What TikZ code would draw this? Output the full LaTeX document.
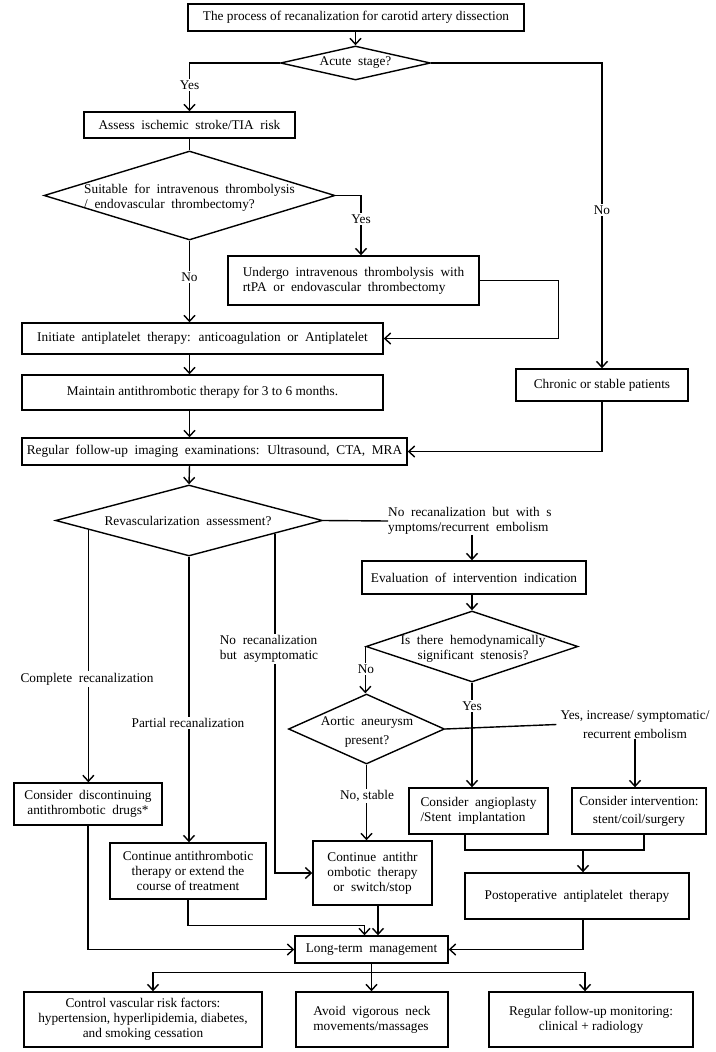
\documentclass[tikz,border=0pt]{standalone}
\usepackage{fontspec}
\setmainfont{Liberation Serif}
\usetikzlibrary{shapes.geometric,arrows.meta,calc}
\begin{document}
\begin{tikzpicture}[x=1pt,y=-1pt,
  every node/.style={font=\fontsize{13.3}{15}\selectfont, inner sep=0pt},
  box/.style={draw, line width=1.4pt, align=center},
  dia/.style={draw, diamond, line width=1.4pt, inner sep=0pt},
  ws/.style={execute at begin node={\spaceskip=0.5em plus 0.2em\relax}},
  ln/.style={line width=1.4pt},
  arr/.style={line width=1.4pt, -{Straight Barb[length=6pt,width=11pt]}},
  lbl/.style={fill=white, inner sep=1.5pt, align=center}]
\useasboundingbox (0,0) rectangle (715,1052);
% nodes
\node[box, minimum width=336, minimum height=27] (title) at (356,17.5) {The process of recanalization for carotid artery dissection};
\node[dia, minimum width=150, minimum height=34] (acute) at (355.5,63) {};
\node[ws] (acuteT) at (acute) {Acute stage?};
\node[box, ws, minimum width=211, minimum height=26] (assess) at (189.5,125) {Assess ischemic stroke/TIA risk};
\node[dia, minimum width=291, minimum height=89] (suit) at (189.5,195.5) {};
\node[ws, align=left] (suitT) at (189.5,198) {Suitable for intravenous thrombolysis\\ / endovascular thrombectomy?};
\node[box, ws, align=left, minimum width=251, minimum height=49] (undergo) at (353.5,280.5) {Undergo intravenous thrombolysis with\\rtPA or endovascular thrombectomy};
\node[box, ws, minimum width=361, minimum height=31] (init) at (202.5,338.5) {Initiate antiplatelet therapy: anticoagulation or Antiplatelet};
\node[box, minimum width=361, minimum height=35] (maint) at (202.5,392.5) {Maintain antithrombotic therapy for 3 to 6 months.};
\node[box, ws, minimum width=385, minimum height=27] (reg) at (214.5,451.5) {Regular follow-up imaging examinations: Ultrasound, CTA, MRA};
\node[box, minimum width=172, minimum height=32] (chronic) at (602,385) {Chronic or stable patients};
\node[dia, minimum width=267, minimum height=71] (revasc) at (189,520.5) {};
\node[ws] (revascT) at (188,521) {Revascularization assessment?};
\node[ws, align=left, anchor=west] (nrs) at (388,521) {No recanalization but with s\\ymptoms/recurrent embolism};
\node[box, ws, minimum width=224, minimum height=33] (eval) at (474,577.5) {Evaluation of intervention indication};
\node[dia, minimum width=212, minimum height=71] (isth) at (472,646.5) {};
\node[ws, align=center] (isthT) at (473,648.5) {Is there hemodynamically\\significant stenosis?};
\node[dia, minimum width=156, minimum height=70] (aortic) at (366.5,729) {};
\node[ws, align=center] (aorticT) at (367,732) {Aortic aneurysm\\[4pt]present?};
\node[align=center] (yinc) at (635,724.5) {Yes, increase/ symptomatic/\\[4pt]recurrent embolism};
\node[box, ws, minimum width=148, minimum height=42] (disc) at (88,804) {Consider discontinuing\\antithrombotic drugs*};
\node[box, minimum width=156, minimum height=56] (contA) at (188,871) {Continue antithrombotic\\therapy or extend the\\course of treatment};
\node[box, ws, minimum width=119, minimum height=64] (contB) at (372.5,873) {Continue antithr\\ombotic therapy\\or switch/stop};
\node[box, ws, align=left, minimum width=139, minimum height=46] (angio) at (478.5,811) {Consider angioplasty\\/Stent implantation};
\node[box, minimum width=134, minimum height=46] (interv) at (639,811) {Consider intervention:\\[3pt]stent/coil/surgery};
\node[box, ws, minimum width=224, minimum height=46] (postop) at (577,896) {Postoperative antiplatelet therapy};
\node[box, ws, minimum width=153, minimum height=27] (lt) at (371.5,949.5) {Long-term management};
\node[box, minimum width=238, minimum height=55] (ctrl) at (143,1019.5) {Control vascular risk factors:\\hypertension, hyperlipidemia, diabetes,\\and smoking cessation};
\node[box, ws, align=left, minimum width=152, minimum height=55] (avoid) at (372,1019.5) {Avoid vigorous neck\\movements/massages};
\node[box, minimum width=204, minimum height=55] (fol) at (591,1019.5) {Regular follow-up monitoring:\\clinical + radiology};
% connectors
\draw[arr] (title.south -| acute.north) -- (acute.north);
\draw[arr] (acute.west) -| (assess.north);
\node[lbl] (y1) at (189.5,85) {Yes};
\draw[arr] (acute.east) -| (chronic.north);
\node[lbl] (n1) at (602,210) {No};
\draw[ln] (assess.south) -- (suit.north);
\coordinate (yx) at (361,0);
\draw[arr] (suit.east) -| (yx |- undergo.north);
\node[lbl] (y2) at (361,219) {Yes};
\draw[arr] (suit.south) -- (suit.south |- init.north);
\node[lbl] (n2) at (189.5,277) {No};
\draw[arr] (undergo.east) -- ++(79,0) |- (init.east);
\coordinate (cl) at (189.5,0);
\draw[arr] (cl |- init.south) -- (cl |- maint.north);
\draw[arr] (cl |- maint.south) -- (cl |- reg.north);
\draw[arr] (chronic.south) |- (reg.east);
\draw[arr] (cl |- reg.south) -- (revasc.north);
\draw[ln] (revasc.east) -- (nrs.west);
\draw[arr] (nrs.south -| isth.north) -- (eval.north -| isth.north);
\draw[arr] (eval.south -| isth.north) -- (isth.north);
\draw[arr] (isth.west) -- (isth.west |- aortic.north);
\node[lbl] (n3) at (366,669) {No};
\draw[arr] (isth.south) -- (isth.south |- angio.north);
\node[lbl] (y3) at (472,706) {Yes};
\draw[ln] (aortic.east) -- ([xshift=-4]yinc.west);
\draw[arr] (yinc.south) -- (yinc.south |- interv.north);
\draw[arr] (aortic.south) -- (aortic.south |- contB.north);
\node[lbl] (ns) at (367,796) {No, stable};
\coordinate (pc) at ($(revasc.west)!0.25!(revasc.south)$);
\draw[arr] (pc) -- (pc |- disc.north);
\node[lbl, ws] (lc) at (87,679) {Complete recanalization};
\draw[arr] (revasc.south) -- (revasc.south |- contA.north);
\node[lbl] (lp) at (188,723) {Partial recanalization};
\coordinate (pa) at ($(revasc.east)!0.36!(revasc.south)$);
\draw[arr] (pa) |- (contB.west);
\node[lbl, ws, align=left] (la) at (269,649) {No recanalization\\but asymptomatic};
\coordinate (jn) at (583,850);
\draw[ln] ([xshift=-13.5]angio.south) |- (jn);
\draw[ln] ([xshift=5]interv.south) |- (jn);
\draw[arr] (jn) -- (jn |- postop.north);
\draw[arr] (contA.south) -- ++(0,26) -| ([xshift=-7]lt.north);
\draw[arr] ([xshift=5.5]contB.south) -- ([xshift=5.5]contB.south |- lt.north);
\draw[arr] (disc.south) |- (lt.west);
\draw[arr] ([xshift=6]postop.south) |- (lt.east);
\coordinate (bj) at ($(lt.south)+(0,9)$);
\draw[ln] (lt.south) -- (bj);
\draw[arr] (bj) -| ([xshift=10]ctrl.north);
\draw[arr] (bj) -- (bj |- avoid.north);
\draw[arr] (bj) -| ([xshift=-6]fol.north);
\end{tikzpicture}
\end{document}
